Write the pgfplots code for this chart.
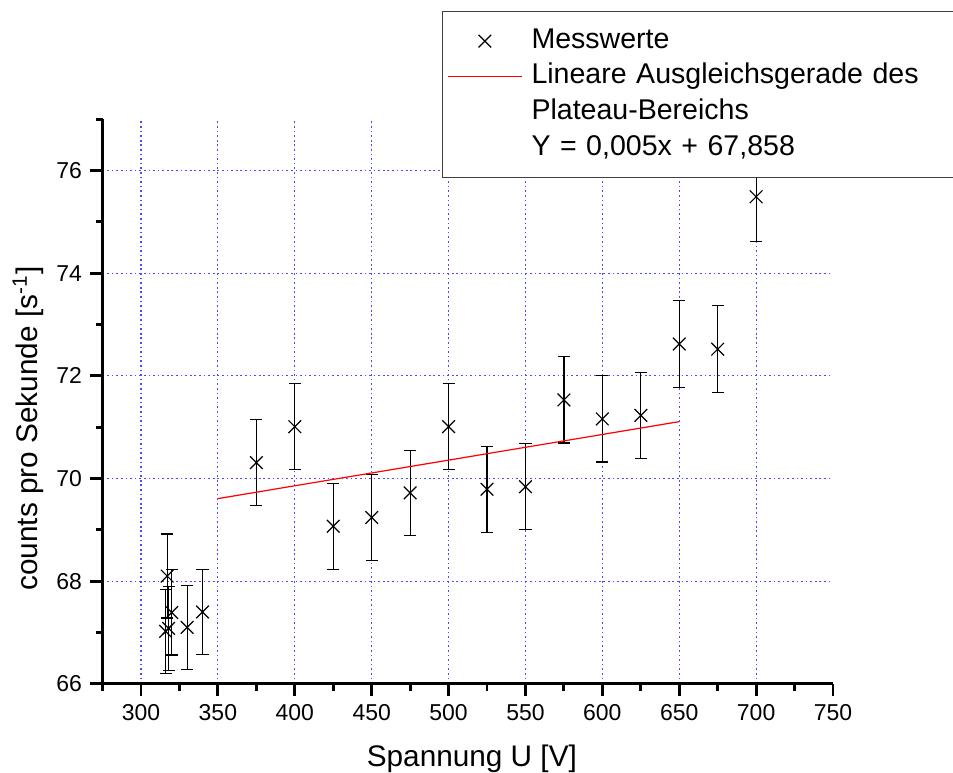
\documentclass[border=0pt]{standalone}
\usepackage{fontspec}
\setmainfont{Liberation Sans}
\usepackage{pgfplots}
\pgfplotsset{compat=1.18}
\usepackage{pgfplotstable}

% Zaehlrate gegen Spannung, Fehler = Poisson
\pgfplotstableread{
U   cps    err
316 67.02  0.82
317 68.10  0.82
318 67.08  0.82
320 67.39  0.83
330 67.10  0.82
340 67.40  0.83
375 70.31  0.84
400 71.01  0.84
425 69.07  0.84
450 69.24  0.84
475 69.72  0.83
500 71.01  0.84
525 69.79  0.84
550 69.84  0.84
575 71.53  0.84
600 71.16  0.84
625 71.23  0.84
650 72.62  0.85
675 72.52  0.85
700 75.49  0.87
}\messdaten

\begin{document}
\begin{tikzpicture}
\begin{axis}[
  name=ax,
  scale only axis, width=302pt, height=233.4pt,
  xmin=275, xmax=750, ymin=66, ymax=77,
  axis x line*=bottom, axis y line*=left,
  axis line style={line width=1.3pt, -},
  xtick={300,350,...,700}, ytick={66,68,...,76},
  extra x ticks={750},
  extra x tick style={grid=none, tick align=outside},
  minor xtick={275,325,...,725}, minor ytick={67,69,...,77},
  tick align=outside,
  major tick length=5pt, minor tick length=2.8pt,
  tick style={line width=1.2pt, black},
  grid=major,
  grid style={blue!70, line width=0.5pt, dash pattern=on 0.7pt off 1.2pt},
  ticklabel style={font=\fontsize{9.5}{11}\selectfont},
  /pgf/number format/assume math mode=true,
  xlabel={Spannung U [V]},
  ylabel={counts pro Sekunde [s\textsuperscript{-1}]},
  label style={font=\fontsize{12.3}{14}\selectfont},
  xlabel style={at={(axis description cs:0.5056,-0.147)}, anchor=base},
  ylabel style={at={(axis description cs:-0.102,0.452)}, anchor=center},
  legend style={at={(0,1)}, anchor=north west, xshift=140.3pt, yshift=44.9pt,
    draw=black!75, line width=0.5pt, fill=white,
    inner xsep=2pt, inner ysep=5pt, row sep=0pt, column sep=3.7pt,
    font=\fontsize{11.8}{14}\selectfont,
    nodes={inner xsep=0pt, inner ysep=1.85pt, text height=8.5pt,
      text depth=2.5pt, text width=180pt, align=left}},
  legend cell align=left,
  legend image code/.code={\draw[mark repeat=2, mark phase=2, #1]
    plot coordinates {(0pt,0pt) (15.3pt,0pt) (30.6pt,0pt)};},
]
\addplot[only marks, black, mark=x, mark size=3.7pt,
  mark options={line width=0.5pt},
  error bars/.cd, y dir=both, y explicit,
  error bar style={line width=0.5pt, black},
  error mark options={rotate=90, mark size=2.5pt, line width=0.5pt, black}]
  table[x=U, y=cps, y error=err] {\messdaten};
\addlegendentry{Messwerte}
\addplot[red, line width=0.5pt] coordinates {(350,69.608) (650,71.108)};
\addlegendentry{Lineare Ausgleichsgerade des}
\addlegendimage{empty legend}
\addlegendentry{Plateau-Bereichs}
\addlegendimage{empty legend}
\addlegendentry{Y = 0,005x + 67,858}
\end{axis}
\pgfresetboundingbox
\useasboundingbox ([xshift=-42.4pt,yshift=-36.8pt]ax.south west)
  rectangle ([xshift=49.6pt,yshift=49.3pt]ax.north east);
\end{tikzpicture}
\end{document}
